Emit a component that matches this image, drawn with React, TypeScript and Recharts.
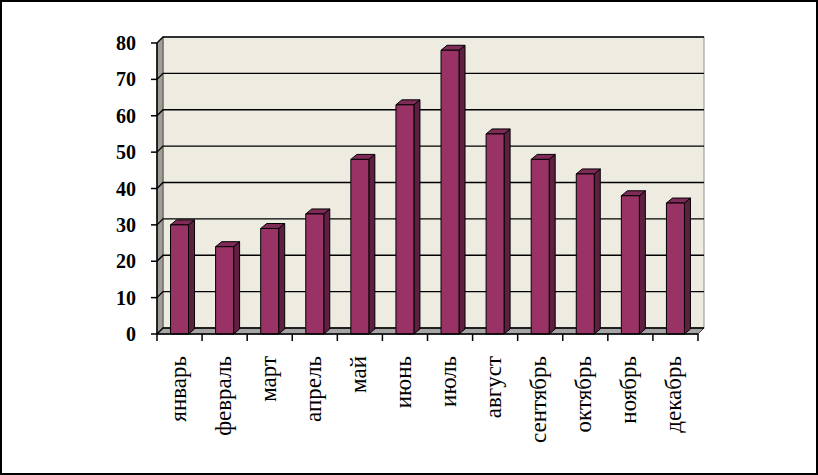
import React from "react";
import {
  BarChart,
  Bar,
  XAxis,
  YAxis,
  CartesianGrid,
  ReferenceArea,
} from "recharts";

const months = [
  "январь",
  "февраль",
  "март",
  "апрель",
  "май",
  "июнь",
  "июль",
  "август",
  "сентябрь",
  "октябрь",
  "ноябрь",
  "декабрь",
];
const values = [30, 24, 29, 33, 48, 63, 78, 55, 48, 44, 38, 36];
const yTicks = [0, 10, 20, 30, 40, 50, 60, 70, 80];

const data = months.map((m, i) => ({ month: m, value: values[i] }));

// depth of the fake 3d
const DX = 6;
const DY = 6;
const BAR_DX = 6;
const BAR_DY = 5;

const Walls = (props: any) => {
  const { x, y, width, height } = props;
  const L = x;
  const R = x + width;
  const T = y;
  const B = y + height;
  return (
    <g>
      <rect
        x={L + DX}
        y={T - DY}
        width={width}
        height={height}
        fill="#EEEBE1"
        stroke="#8E8E8E"
        strokeWidth={1}
      />
      <polygon
        points={`${L},${T} ${L + DX},${T - DY} ${L + DX},${B - DY} ${L},${B}`}
        fill="#A19D95"
        stroke="#555"
        strokeWidth={1}
      />
      <polygon
        points={`${L},${B} ${L + DX},${B - DY} ${R + DX},${B - DY} ${R},${B}`}
        fill="#A5A5A5"
        stroke="#444"
        strokeWidth={1}
      />
    </g>
  );
};

const GridLine = (props: any) => {
  const { x1, y1, x2 } = props;
  return (
    <path
      key={props.key ?? `g-${y1}`}
      d={`M${x1},${y1} L${x1 + DX},${y1 - DY} L${x2 + DX},${y1 - DY}`}
      fill="none"
      stroke="#000"
      strokeWidth={1.4}
    />
  );
};

const Bar3D = (props: any) => {
  const { x, y, width, height } = props;
  if (!height) return null;
  const r = x + width;
  const b = y + height;
  return (
    <g stroke="#000" strokeWidth={1} strokeLinejoin="round">
      <polygon
        points={`${r},${y} ${r + BAR_DX},${y - BAR_DY} ${r + BAR_DX},${b - BAR_DY} ${r},${b}`}
        fill="#5E1F40"
      />
      <polygon
        points={`${x},${y} ${x + BAR_DX},${y - BAR_DY} ${r + BAR_DX},${y - BAR_DY} ${r},${y}`}
        fill="#7E2B57"
      />
      <rect x={x} y={y} width={width} height={height} fill="#993366" />
    </g>
  );
};

// month label plus the tick marks that sit between categories
const MonthTick = (props: any) => {
  const { x, y, payload, index, visibleTicksCount } = props;
  const half = payload.offset ?? 0;
  const tx = x + 6;
  const ty = y + 22;
  const last = index === visibleTicksCount - 1;
  return (
    <g>
      <line x1={x - half} y1={y} x2={x - half} y2={y + 7} stroke="#000" strokeWidth={1.5} />
      {last && (
        <line x1={x + half} y1={y} x2={x + half} y2={y + 7} stroke="#000" strokeWidth={1.5} />
      )}
      <text
        x={tx}
        y={ty}
        transform={`rotate(-90, ${tx}, ${ty})`}
        textAnchor="end"
        fontFamily="'Liberation Serif', 'Times New Roman', serif"
        fontSize={23}
        fill="#000"
      >
        {payload.value}
      </text>
    </g>
  );
};

export default function App() {
  return (
    <div style={{ position: "absolute", left: 0, top: 0, width: 818, height: 475, background: "#fff" }}>
      <BarChart
        width={818}
        height={475}
        data={data}
        margin={{ top: 43, right: 120, bottom: 41, left: 97 }}
        barCategoryGap="30%"
      >
        <ReferenceArea y1={0} y2={80} shape={<Walls />} zIndex={-200} ifOverflow="visible" />
        <CartesianGrid vertical={false} horizontal={GridLine} />
        <XAxis
          dataKey="month"
          height={100}
          axisLine={{ stroke: "#000", strokeWidth: 1.5 }}
          tickLine={false}
          tickSize={0}
          tickMargin={0}
          interval={0}
          tick={<MonthTick />}
        />
        <YAxis
          width={60}
          domain={[0, 80]}
          ticks={yTicks}
          interval={0}
          tickSize={6}
          tickMargin={15}
          axisLine={{ stroke: "#000", strokeWidth: 1.5 }}
          tickLine={{ stroke: "#000", strokeWidth: 1.5 }}
          tick={{
            fontFamily: "'Liberation Serif', 'Times New Roman', serif",
            fontWeight: "bold",
            fontSize: 20,
            fill: "#000",
          }}
        />
        <Bar dataKey="value" shape={<Bar3D />} isAnimationActive={false} />
      </BarChart>
      <div
        style={{
          position: "absolute",
          left: 0,
          top: 0,
          width: 818,
          height: 475,
          boxSizing: "border-box",
          border: "2px solid #000",
          pointerEvents: "none",
        }}
      />
    </div>
  );
}
